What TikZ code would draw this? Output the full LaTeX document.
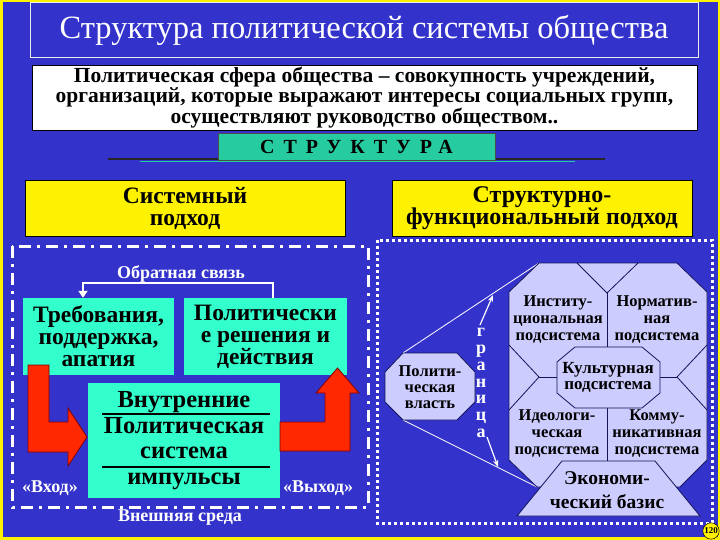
\documentclass[tikz,border=0pt]{standalone}
\usepackage{fontspec}
\setmainfont{Liberation Serif}[BoldFont={Liberation Serif Bold}]
\usetikzlibrary{arrows.meta}
\definecolor{bgblue}{RGB}{51,51,204}
\definecolor{aqua}{RGB}{51,255,204}
\definecolor{tealbox}{RGB}{38,204,160}
\definecolor{lav}{RGB}{204,204,255}
\definecolor{redar}{RGB}{255,40,0}
\definecolor{navy}{RGB}{20,20,90}
\newcommand{\fs}[2]{\fontsize{#1}{#2}\selectfont}
\begin{document}
\begin{tikzpicture}[x=1pt,y=-1pt,
  box/.style={inner sep=0pt, align=center, text=black, font=\bfseries\fs{23.5}{22}},
  wlabel/.style={inner sep=0pt, text=white, font=\bfseries\fs{18}{18}},
  subtxt/.style={inner sep=0pt, align=center, text=black, font=\bfseries\fs{16.5}{17}},
  navyline/.style={draw=navy, line width=0.8pt},
  redarrow/.style={fill=redar, draw=red!50!black, line width=0.8pt, line join=miter},
  lavshape/.style={fill=lav, draw=navy, line width=0.8pt}]
\useasboundingbox (0,0) rectangle (720,540);
\fill[yellow] (0,0) rectangle (720,540);
\fill[bgblue] (3,2) rectangle (718,537);

% title
\node[draw=white!85!gray, line width=1pt, minimum width=668pt, minimum height=55pt,
  inner sep=0pt, text=white, font=\fs{32.5}{36}] (title) at (364,30.5)
  {Структура политической системы общества};

% definition
\node[fill=white, draw=black, line width=0.8pt, minimum width=665pt, minimum height=65pt,
  inner sep=0pt, align=center, font=\bfseries\fs{21.5}{19}] (def) at (364.5,97.5)
  {Политическая сфера общества – совокупность учреждений,\\
   организаций, которые выражают интересы социальных групп,\\
   осуществляют руководство обществом..};

% structure label
\draw[black!85, line width=1.5pt] (108,159) -- (605,159);
\draw[tealbox, line width=1.5pt] (140,161.5) -- (575,161.5);
\node[fill=tealbox, draw=black!70, line width=0.6pt, minimum width=277pt, minimum height=27pt,
  inner sep=0pt, font=\bfseries\fs{20}{20}] (str) at (356.5,146.5)
  {\addfontfeatures{LetterSpace=45}СТРУКТУРА};

% approaches
\node[box, fill=yellow, draw=black, line width=0.8pt, minimum width=320pt, minimum height=56pt,
  font=\bfseries\fs{23.5}{22}] (sys) at (185,208) {Системный\\подход};
\node[box, fill=yellow, draw=black, line width=0.8pt, minimum width=300pt, minimum height=56pt,
  font=\bfseries\fs{24}{22}] (sf) at (542,208) {Структурно-\\функциональный подход};

% frames
\draw[white, line width=3pt, dash pattern=on 12pt off 6pt on 3pt off 6pt] (12,246) rectangle (368,507);
\draw[white, line width=3pt, dash pattern=on 3pt off 3pt] (377,240) rectangle (712,523);

% left system model
\node[box, fill=aqua, minimum width=151pt, minimum height=77pt] (req) at (98.5,336.5)
  {Требования,\\поддержка,\\апатия};
\node[box, fill=aqua, minimum width=163pt, minimum height=77pt] (dec) at (265.5,336.5)
  {Политически\\е решения и\\действия};
\node[box, fill=aqua, minimum width=192pt, minimum height=115pt, font=\bfseries\fs{24.5}{25.7}]
  (cen) at (184,440.5) {Внутренние\\Политическая\\система\\импульсы};
\draw[black, line width=2pt] (102,414) -- (270,414);
\draw[black, line width=2pt] (102,467) -- (270,467);

\node[wlabel] (fbl) at (181,274) {Обратная связь};
\draw[white, line width=2pt, -{Triangle[width=9pt,length=7pt]}]
  ([xshift=7.5pt]dec.north) -- ++(0,-15) -| ([xshift=-15.5pt]req.north);

\filldraw[redarrow] (28,365) -- (49,365) -- (49,422) -- (68,422) -- (68,408) -- (87,437)
  -- (68,466) -- (68,452) -- (28,452) -- cycle;
\filldraw[redarrow] (280,422) -- (325,422) -- (325,393) -- (316,393) -- (337.5,368)
  -- (359,393) -- (350,393) -- (350,451) -- (280,451) -- cycle;

\node[wlabel] (in) at (50,488) {«Вход»};
\node[wlabel] (out) at (318,488) {«Выход»};
\node[wlabel] (env) at (180,518) {Внешняя среда};

% right model
\coordinate (pa) at (403,353);
\coordinate (pb) at (403,420);
\coordinate (ba) at (539,263);
\coordinate (bb) at (537,487);
\draw[white, line width=0.8pt] (pa) -- (ba);
\draw[white, line width=0.8pt] (pb) -- (bb);
\filldraw[lavshape] (403,353) -- (457,353) -- (475,372) -- (475,402) -- (457,420)
  -- (403,420) -- (385,402) -- (385,372) -- cycle;
\node[subtxt, font=\bfseries\fs{16.5}{16}] (pv) at (430,387) {Полити-\\ческая\\власть};

\filldraw[lavshape] (539,263) -- (677,263) -- (707,292) -- (707,460) -- (680,487)
  -- (537,487) -- (509,460) -- (509,292) -- cycle;
\draw[navyline] (577,263) -- (607,293) -- (638,263);
\draw[navyline] (607,293) -- (607,347);
\draw[navyline] (509,345) -- (539,377) -- (509,410);
\draw[navyline] (539,377) -- (557,377);
\draw[navyline] (707,345) -- (677,377) -- (707,410);
\draw[navyline] (677,377) -- (660,377);
\draw[navyline] (607,408) -- (607,461);
\filldraw[lavshape] (575,347) -- (642,347) -- (660,362) -- (660,393) -- (642,408)
  -- (575,408) -- (557,393) -- (557,362) -- cycle;
\filldraw[lavshape] (562,461) -- (655,461) -- (700,516) -- (517,516) -- cycle;

\node[subtxt] (inst) at (558,320) {Институ-\\циональная\\подсистема};
\node[subtxt] (norm) at (657,320) {Норматив-\\ная\\подсистема};
\node[subtxt, font=\bfseries\fs{17}{16.5}] (cult) at (608,377.5) {Культурная\\подсистема};
\node[subtxt] (ideo) at (557,434) {Идеологи-\\ческая\\подсистема};
\node[subtxt] (comm) at (657,434) {Комму-\\никативная\\подсистема};
\node[subtxt, font=\bfseries\fs{19.5}{24}] (econ) at (607,490) {Экономи-\\ческий базис};

\node[inner sep=0pt, align=center, text=white, font=\bfseries\fs{18}{16.7}] (gr) at (481,383)
  {г\\р\\а\\н\\и\\ц\\а};
\coordinate (g1) at (480,325);
\coordinate (g2) at (493,295);
\coordinate (g3) at (487,437);
\coordinate (g4) at (498,467);
\draw[white, line width=1.2pt, -{Stealth[length=7pt]}] (g1) -- (g2);
\draw[white, line width=1.2pt, -{Stealth[length=7pt]}] (g3) -- (g4);

\node[circle, fill=yellow, draw=black, line width=0.5pt, inner sep=0.6pt,
  font=\bfseries\fs{9}{9}] (pg) at (711,531) {120};
\end{tikzpicture}
\end{document}
